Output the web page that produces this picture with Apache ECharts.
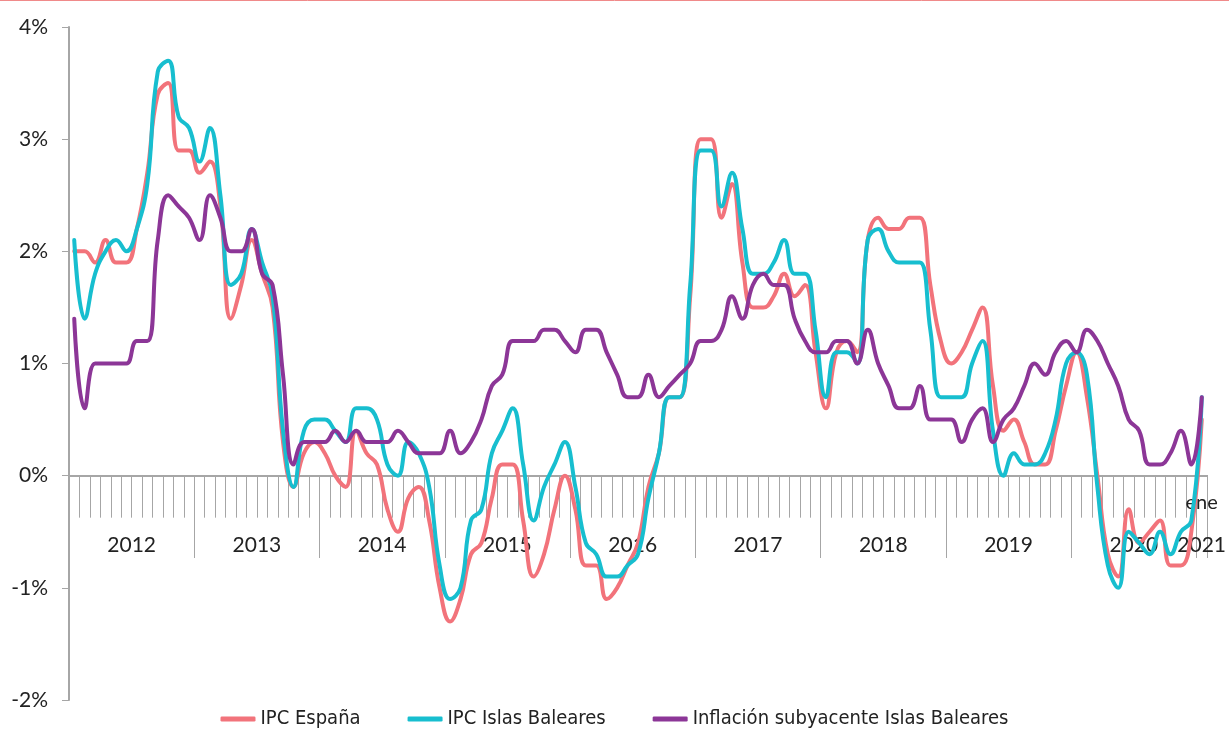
<!DOCTYPE html>
<html>
<head>
    <meta charset="utf-8">
    <script src="https://cdn.jsdelivr.net/npm/echarts@6/dist/echarts.min.js"></script>
    <style>
        html, body {margin: 0; padding: 0; background: #fff;}
        #chart {width: 1229px; height: 731px;}
    </style>
</head>
<body>
<div id="chart"></div>
<script>
    // meses y años del eje
    var meses = ['ene', 'feb', 'mar', 'abr', 'may', 'jun', 'jul', 'ago', 'sep', 'oct', 'nov', 'dic'];
    var anios = [2012, 2013, 2014, 2015, 2016, 2017, 2018, 2019, 2020, 2021];

    // tasas interanuales (%), ene 2012 - ene 2021
    var ipcEspana = [
        2.0, 2.0, 1.9, 2.1, 1.9, 1.9, 2.2, 2.7, 3.4, 3.5, 2.9, 2.9,
        2.7, 2.8, 2.4, 1.4, 1.7, 2.1, 1.8, 1.5, 0.3, -0.1, 0.2, 0.3,
        0.2, 0.0, -0.1, 0.4, 0.2, 0.1, -0.3, -0.5, -0.2, -0.1, -0.4, -1.0,
        -1.3, -1.1, -0.7, -0.6, -0.2, 0.1, 0.1, -0.4, -0.9, -0.7, -0.3, 0.0,
        -0.3, -0.8, -0.8, -1.1, -1.0, -0.8, -0.6, -0.1, 0.2, 0.7, 0.7, 1.6,
        3.0, 3.0, 2.3, 2.6, 1.9, 1.5, 1.5, 1.6, 1.8, 1.6, 1.7, 1.1,
        0.6, 1.1, 1.2, 1.1, 2.1, 2.3, 2.2, 2.2, 2.3, 2.3, 1.7, 1.2,
        1.0, 1.1, 1.3, 1.5, 0.8, 0.4, 0.5, 0.3, 0.1, 0.1, 0.4, 0.8,
        1.1, 0.7, 0.0, -0.7, -0.9, -0.3, -0.6, -0.5, -0.4, -0.8, -0.8, -0.5,
        0.5
    ];
    var ipcBaleares = [
        2.1, 1.4, 1.8, 2.0, 2.1, 2.0, 2.2, 2.6, 3.6, 3.7, 3.2, 3.1,
        2.8, 3.1, 2.5, 1.7, 1.8, 2.2, 1.9, 1.6, 0.4, -0.1, 0.4, 0.5,
        0.5, 0.4, 0.3, 0.6, 0.6, 0.5, 0.1, 0.0, 0.3, 0.2, -0.1, -0.8,
        -1.1, -1.0, -0.4, -0.3, 0.2, 0.4, 0.6, 0.1, -0.4, -0.1, 0.1, 0.3,
        -0.1, -0.6, -0.7, -0.9, -0.9, -0.8, -0.7, -0.2, 0.2, 0.7, 0.7, 1.7,
        2.9, 2.9, 2.4, 2.7, 2.2, 1.8, 1.8, 1.9, 2.1, 1.8, 1.8, 1.3,
        0.7, 1.1, 1.1, 1.0, 2.1, 2.2, 2.0, 1.9, 1.9, 1.9, 1.3, 0.7,
        0.7, 0.7, 1.0, 1.2, 0.4, 0.0, 0.2, 0.1, 0.1, 0.2, 0.5, 1.0,
        1.1, 0.9, -0.1, -0.8, -1.0, -0.5, -0.6, -0.7, -0.5, -0.7, -0.5, -0.4,
        0.7
    ];
    var subyacenteBaleares = [
        1.4, 0.6, 1.0, 1.0, 1.0, 1.0, 1.2, 1.2, 2.1, 2.5, 2.4, 2.3,
        2.1, 2.5, 2.3, 2.0, 2.0, 2.2, 1.8, 1.7, 0.9, 0.1, 0.3, 0.3,
        0.3, 0.4, 0.3, 0.4, 0.3, 0.3, 0.3, 0.4, 0.3, 0.2, 0.2, 0.2,
        0.4, 0.2, 0.3, 0.5, 0.8, 0.9, 1.2, 1.2, 1.2, 1.3, 1.3, 1.2,
        1.1, 1.3, 1.3, 1.1, 0.9, 0.7, 0.7, 0.9, 0.7, 0.8, 0.9, 1.0,
        1.2, 1.2, 1.3, 1.6, 1.4, 1.7, 1.8, 1.7, 1.7, 1.4, 1.2, 1.1,
        1.1, 1.2, 1.2, 1.0, 1.3, 1.0, 0.8, 0.6, 0.6, 0.8, 0.5, 0.5,
        0.5, 0.3, 0.5, 0.6, 0.3, 0.5, 0.6, 0.8, 1.0, 0.9, 1.1, 1.2,
        1.1, 1.3, 1.2, 1.0, 0.8, 0.5, 0.4, 0.1, 0.1, 0.2, 0.4, 0.1,
        0.7
    ];

    var nombres = ['IPC España', 'IPC Islas Baleares', 'Inflación subyacente Islas Baleares'];
    var colores = ['#F2737B', '#17BECF', '#8C3697'];

    var n = ipcEspana.length;
    var categorias = [];
    for (var i = 0; i < n; i++) {
        categorias.push(meses[i % 12] + ' ' + anios[Math.floor(i / 12)]);
    }

    // separadores de año y centro de cada bloque (en meses)
    var cortesAnio = anios.map(function (a, i) { return i * 12; }).concat([n]);
    var centrosAnio = anios.map(function (a, i) {
        var ini = i * 12;
        var fin = Math.min(ini + 12, n);
        return (ini + fin) / 2;
    });

    var fuente = 'Lato, "Open Sans", sans-serif';
    var gris = '#a6a6a6';

    var myChart = echarts.init(document.getElementById('chart'));

    var option = {
        backgroundColor: '#fff',
        animation: false,
        color: colores,
        graphic: [{
            type: 'line',
            shape: {x1: 0, y1: 0.5, x2: 1229, y2: 0.5},
            style: {stroke: '#f08a8a', lineWidth: 1}
        }],
        legend: {
            data: nombres,
            left: 'center',
            top: 704,
            icon: 'roundRect',
            itemWidth: 35,
            itemHeight: 5,
            itemGap: 47,
            textStyle: {
                fontFamily: '"Liberation Sans Narrow", "DejaVu Sans Condensed", sans-serif',
                fontSize: 20,
                color: '#222'
            }
        },
        grid: [
            {left: 69, right: 22, top: 27, bottom: 31},
            // solo para las marcas largas, los años y "ene"
            {left: 69, right: 22, top: 400, height: 75}
        ],
        xAxis: [{
            type: 'category',
            gridIndex: 0,
            data: categorias,
            axisLine: {onZero: true, lineStyle: {color: gris, width: 2}},
            axisTick: {show: true, interval: 0, length: 42, lineStyle: {color: gris, width: 1}},
            axisLabel: {show: false},
            splitLine: {show: false}
        }, {
            type: 'value',
            gridIndex: 1,
            position: 'bottom',
            min: 0,
            max: n,
            axisLine: {show: false, onZero: false},
            axisTick: {show: true, length: 83, customValues: cortesAnio, lineStyle: {color: gris, width: 1}},
            axisLabel: {
                customValues: centrosAnio,
                margin: 60,
                fontFamily: fuente,
                fontSize: 21,
                color: '#222',
                formatter: function (v) {
                    return String(anios[Math.floor(v / 12)]);
                }
            },
            splitLine: {show: false}
        }, {
            type: 'value',
            gridIndex: 1,
            position: 'bottom',
            min: 0,
            max: n,
            axisLine: {show: false, onZero: false},
            axisTick: {show: false},
            axisLabel: {
                customValues: [n - 0.5],
                margin: 18,
                fontFamily: fuente,
                fontSize: 20,
                color: '#222',
                formatter: function (v) {
                    return meses[Math.floor(v) % 12];
                }
            },
            splitLine: {show: false}
        }],
        yAxis: [{
            type: 'value',
            gridIndex: 0,
            min: -2,
            max: 4,
            interval: 1,
            axisLine: {show: true, lineStyle: {color: gris, width: 2}},
            axisTick: {show: true, length: 7, lineStyle: {color: gris, width: 1}},
            axisLabel: {
                margin: 21,
                fontFamily: fuente,
                fontSize: 21,
                color: '#222',
                formatter: '{value}%'
            },
            splitLine: {show: false}
        }, {
            type: 'value',
            gridIndex: 1,
            show: false
        }],
        series: [
            {name: nombres[0], data: ipcEspana},
            {name: nombres[1], data: ipcBaleares},
            {name: nombres[2], data: subyacenteBaleares}
        ].map(function (s) {
            return {
                name: s.name,
                type: 'line',
                xAxisIndex: 0,
                yAxisIndex: 0,
                data: s.data,
                smooth: 0.45,
                showSymbol: false,
                lineStyle: {width: 4, cap: 'round', join: 'round'}
            };
        })
    };

    myChart.setOption(option);
</script>
</body>
</html>
